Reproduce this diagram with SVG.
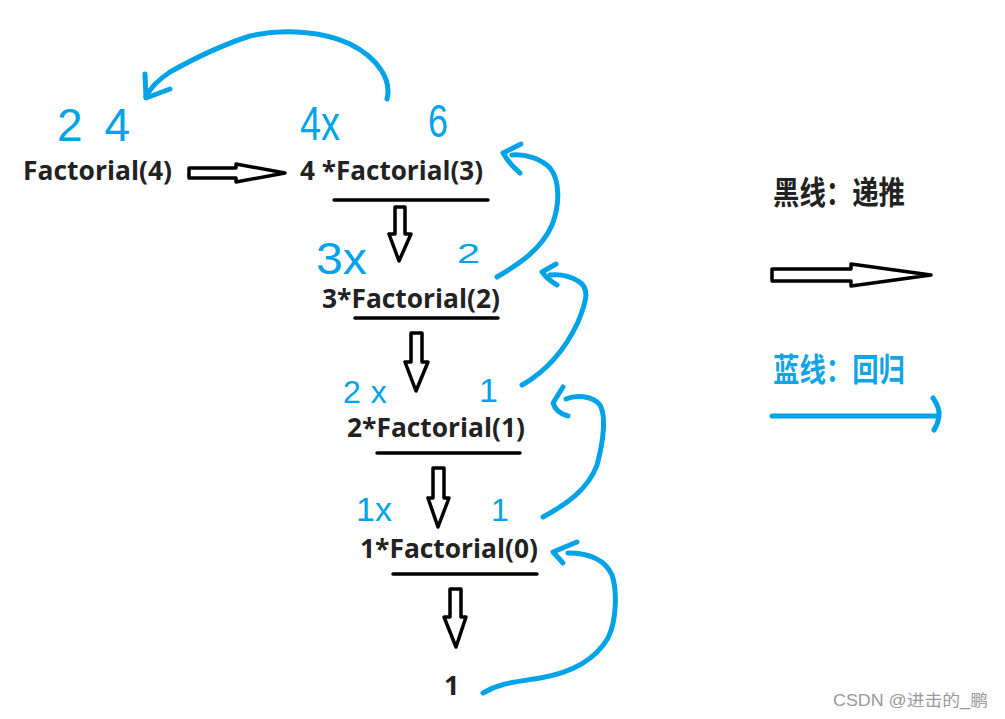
<svg xmlns="http://www.w3.org/2000/svg" width="1005" height="719" viewBox="0 0 1005 719">
<defs>
<style>
.lbl{font-family:"Open Sans","Liberation Sans","Noto Sans",sans-serif;font-weight:bold;font-size:27px;fill:#222}
.hand{font-family:"Liberation Sans","DejaVu Sans",sans-serif;fill:#00a2e8}
.cjk{font-family:"Noto Sans CJK SC","Noto Sans",sans-serif;font-weight:bold;font-size:32px}
.ul{stroke:#000;stroke-width:3.5;stroke-linecap:round}
.blk{fill:#fff;stroke:#000;stroke-width:3.5;stroke-linejoin:round}
.blue{fill:none;stroke:#00a2e8;stroke-width:5;stroke-linecap:round;stroke-linejoin:round}
</style>
</defs>
<rect width="1005" height="719" fill="#fff"/>

<g id="node-f4">
<text class="lbl" x="23" y="180" textLength="149" lengthAdjust="spacingAndGlyphs">Factorial(4)</text>
<text class="hand" x="57" y="141" font-size="46" letter-spacing="22">24</text>
</g>

<g id="node-f3">
<text class="lbl" x="300" y="180" textLength="183" lengthAdjust="spacingAndGlyphs">4 *Factorial(3)</text>
<line class="ul" x1="334" y1="200" x2="488" y2="200"/>
<text class="hand" x="300" y="140" font-size="48" textLength="40" lengthAdjust="spacingAndGlyphs">4x</text>
<text class="hand" x="428" y="137" font-size="46" textLength="20" lengthAdjust="spacingAndGlyphs">6</text>
</g>

<g id="node-f2">
<text class="lbl" x="322" y="308" textLength="178" lengthAdjust="spacingAndGlyphs">3*Factorial(2)</text>
<line class="ul" x1="355" y1="318" x2="498" y2="318"/>
<text class="hand" x="316" y="274" font-size="44" textLength="51" lengthAdjust="spacingAndGlyphs">3x</text>
<text class="hand" x="457" y="263" font-size="28" textLength="23" lengthAdjust="spacingAndGlyphs">2</text>
</g>

<g id="node-f1">
<text class="lbl" x="347" y="437" textLength="178" lengthAdjust="spacingAndGlyphs">2*Factorial(1)</text>
<line class="ul" x1="377" y1="453" x2="520" y2="453"/>
<text class="hand" x="343" y="403" font-size="32" letter-spacing="10">2x</text>
<text class="hand" x="479" y="402" font-size="34">1</text>
</g>

<g id="node-f0">
<text class="lbl" x="360" y="558" textLength="178" lengthAdjust="spacingAndGlyphs">1*Factorial(0)</text>
<line class="ul" x1="393" y1="574" x2="537" y2="574"/>
<text class="hand" x="356" y="521" font-size="34">1x</text>
<text class="hand" x="491" y="521" font-size="32">1</text>
</g>

<g id="node-one">
<text class="lbl" x="444" y="695">1</text>
</g>

<g id="legend">
<text class="cjk" x="773" y="204" fill="#222" textLength="132" lengthAdjust="spacingAndGlyphs">黑线：递推</text>
<polygon class="blk" points="772,269 851,269 851,264 931,275 851,286 851,281 772,281"/>
<text class="cjk" x="773" y="381" fill="#12a4e4" textLength="132" lengthAdjust="spacingAndGlyphs">蓝线：回归</text>
<path class="blue" d="M772,416 L937,416"/>
<path class="blue" d="M933,398 Q940,408 939,416 Q938,424 934,430"/>
</g>

<g id="connectors">
<polygon class="blk" points="189,168 236,168 236,164 285,173 236,182 236,178 189,178"/>
<polygon class="blk" points="395,207 405,207 405,234 411,234 399,261 389,234 395,234"/>
<polygon class="blk" points="411,333 422,333 422,362 428,362 416,391 405,362 411,362"/>
<polygon class="blk" points="433,468 444,468 444,498 449,498 438,527 428,498 433,498"/>
<polygon class="blk" points="450,589 461,589 461,617 466,617 456,647 444,617 450,617"/>

<path class="blue" d="M387,99 C392,80 378,58 350,44 C325,32 285,28 250,36 C225,44 195,58 170,72 C158,80 150,88 146,97"/>
<path class="blue" d="M145,74 L146,98 L170,89"/>

<path class="blue" d="M497,277 C515,266 540,252 552,225 C560,205 560,180 550,168 C540,158 525,154 512,155"/>
<path class="blue" d="M521,144 L503,153 Q510,165 520,173"/>

<path class="blue" d="M522,385 C545,372 565,350 578,322 C587,300 590,288 578,281 C570,276 560,274 550,275"/>
<path class="blue" d="M556,264 L542,272 Q548,280 557,285"/>

<path class="blue" d="M543,517 C565,505 588,490 597,465 C604,440 606,415 600,405 C592,395 575,395 566,399"/>
<path class="blue" d="M563,387 L553,403 Q556,413 568,416"/>

<path class="blue" d="M483,693 C500,683 515,682 540,678 C570,673 595,660 608,638 C617,620 617,590 612,575 C605,560 590,553 568,553"/>
<path class="blue" d="M577,542 L553,552 L563,563"/>
</g>

<text x="833" y="706" font-family="Liberation Sans,Noto Sans CJK SC,sans-serif" font-size="16" fill="#999" textLength="155" lengthAdjust="spacingAndGlyphs">CSDN @进击的_鹏</text>
</svg>
